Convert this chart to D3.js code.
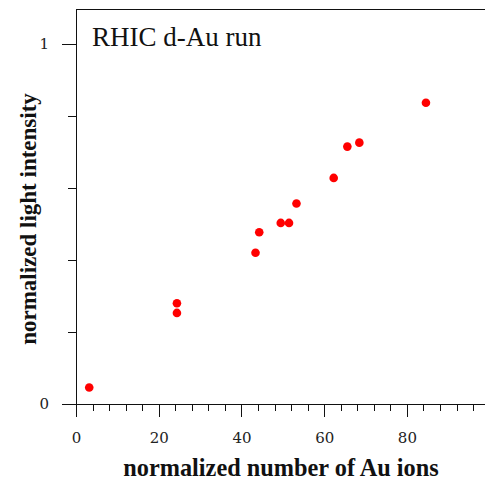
<!DOCTYPE html>
<meta charset="utf-8">
<head>
    <title>RHIC d-Au run</title>
    <style>
        html, body {
            margin: 0;
            padding: 0;
            background: #fff;
        }

        .axis path, .axis line {
            stroke: #111;
            stroke-width: 1;
            shape-rendering: crispEdges;
        }

        .axis text {
            font-family: "DejaVu Serif", serif;
            font-size: 15px;
            fill: #222;
        }

        .title {
            font-family: "Liberation Serif", "Times New Roman", serif;
            font-size: 27px;
            fill: #111;
        }

        .label {
            font-family: "Liberation Serif", "Times New Roman", serif;
            font-weight: bold;
            font-size: 23px;
            fill: #111;
        }

        .dot {
            fill: #ff0000;
        }
    </style>
</head>
<body>
    <svg id="chart" width="485" height="483"></svg>
    <script src="https://cdn.jsdelivr.net/npm/d3@7"></script>
    <script>
        // values
        let auIons = [3.2, 24.4, 24.4, 43.4, 44.3, 49.5, 51.5, 53.3, 62.3, 65.6, 68.5, 84.6];
        let lightIntensity = [0.046, 0.280, 0.253, 0.420, 0.477, 0.503, 0.503, 0.557, 0.628, 0.715, 0.726, 0.837];
        let xMajorTicks = [0, 20, 40, 60, 80];
        let xMinorTicks = d3.range(0, 97, 4);
        let yMajorTicks = [0, 1];
        let yMinorTicks = [0.2, 0.4, 0.6, 0.8];

        let svg = d3.select('#chart');

        let mLeft = 76, mRight = 485.5, mTop = 9.5, mBottom = 404;

        let x = d3.scaleLinear()
                    .domain([0, 99])
                    .range([mLeft, mRight]);

        let y = d3.scaleLinear()
                    .domain([0, 1])
                    .range([mBottom, 44]);

        // minor ticks first, then the major ones with labels
        svg.append('g')
            .attr('class', 'axis')
            .attr('transform', 'translate(0,' + mBottom + ')')
            .call(d3.axisBottom(x).tickValues(xMinorTicks).tickSize(7).tickSizeOuter(0).tickFormat(''))
            .select('.domain').remove();

        svg.append('g')
            .attr('class', 'axis')
            .attr('transform', 'translate(' + mLeft + ',0)')
            .call(d3.axisLeft(y).tickValues(yMinorTicks).tickSize(8).tickSizeOuter(0).tickFormat(''))
            .select('.domain').remove();

        let xAxis = svg.append('g')
            .attr('class', 'axis')
            .attr('transform', 'translate(0,' + mBottom + ')')
            .call(d3.axisBottom(x).tickValues(xMajorTicks).tickSize(13).tickSizeOuter(0).tickPadding(15));
        xAxis.select('.domain').attr('d', 'M' + (mLeft - 14) + ',0.5H' + mRight);

        let yAxis = svg.append('g')
            .attr('class', 'axis')
            .attr('transform', 'translate(' + mLeft + ',0)')
            .call(d3.axisLeft(y).tickValues(yMajorTicks).tickSize(14).tickSizeOuter(0).tickPadding(13)
                    .tickFormat(d3.format('d')));
        yAxis.select('.domain').attr('d', 'M0.5,' + mTop + 'V' + (mBottom + 13));

        // top frame line
        svg.append('line')
            .attr('x1', mLeft)
            .attr('x2', mRight)
            .attr('y1', mTop)
            .attr('y2', mTop)
            .attr('stroke', '#111')
            .attr('shape-rendering', 'crispEdges');

        svg.append('g')
            .selectAll('circle')
            .data(auIons)
            .enter()
            .append('circle')
            .attr('class', 'dot')
            .attr('cx', d => x(d))
            .attr('cy', (d, i) => y(lightIntensity[i]))
            .attr('r', 4.3);

        svg.append('text')
            .attr('class', 'title')
            .attr('x', 92)
            .attr('y', 46)
            .text('RHIC d-Au run');

        svg.append('text')
            .attr('class', 'label')
            .attr('text-anchor', 'middle')
            .style('font-size', '24.3px')
            .attr('x', 281)
            .attr('y', 476)
            .text('normalized number of Au ions');

        svg.append('text')
            .attr('class', 'label')
            .attr('text-anchor', 'middle')
            .attr('transform', 'translate(36,219) rotate(-90)')
            .text('normalized light intensity');
    </script>
</body>
</html>
